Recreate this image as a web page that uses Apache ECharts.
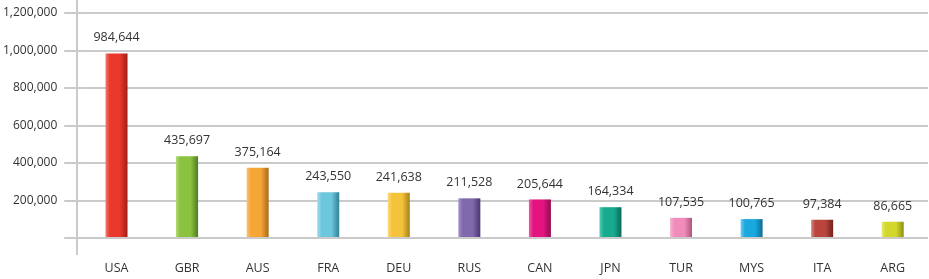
<!DOCTYPE html>
<html>
<head>
<meta charset="utf-8">
<script src="https://cdn.jsdelivr.net/npm/echarts@6/dist/echarts.min.js"></script>
<style>
  html, body { margin: 0; padding: 0; background: #fff; }
  #chart { width: 929px; height: 279px; }
</style>
</head>
<body>
<div id="chart"></div>
<script>
// country codes along the bottom
const countries = ['USA', 'GBR', 'AUS', 'FRA', 'DEU', 'RUS', 'CAN', 'JPN', 'TUR', 'MYS', 'ITA', 'ARG'];
const values = [984644, 435697, 375164, 243550, 241638, 211528, 205644, 164334, 107535, 100765, 97384, 86665];
// [light edge, main, dark edge] per bar
const barColors = [
  ['#f4796d', '#e9382c', '#a01e16'],
  ['#acd66a', '#8bc23f', '#4f7b1f'],
  ['#fbc274', '#f6a537', '#a86b18'],
  ['#a2dcea', '#6cc7dc', '#2f8196'],
  ['#fbd877', '#f5c33a', '#a5801c'],
  ['#a593c8', '#8069ad', '#4a3772'],
  ['#f05aa5', '#e3137f', '#930a50'],
  ['#5ccbb5', '#17aa8f', '#0a6b58'],
  ['#f8b4d2', '#f08cb9', '#ad557d'],
  ['#6ccdf0', '#1aa9de', '#0c6c94'],
  ['#d4847c', '#b9453d', '#74201b'],
  ['#e6e86a', '#d3d72b', '#8c9016']
];
const yTicks = [0, 200000, 400000, 600000, 800000, 1000000, 1200000];

const gridColor = '#cacaca';
const fontFam = '"Open Sans", sans-serif';

const chart = echarts.init(document.getElementById('chart'));

const option = {
  animation: false,
  grid: { left: 78, right: 1, top: 13, bottom: 41 },
  xAxis: {
    type: 'category',
    data: countries,
    axisLine: { show: false },
    axisTick: { show: false },
    axisLabel: {
      margin: 24,
      fontFamily: fontFam,
      fontSize: 12.5,
      color: '#333'
    }
  },
  yAxis: {
    type: 'value',
    min: yTicks[0],
    max: yTicks[yTicks.length - 1],
    interval: 200000,
    axisLine: { show: false },
    axisTick: {
      show: true,
      length: 17,
      lineStyle: { color: gridColor, width: 2 }
    },
    splitLine: { lineStyle: { color: gridColor, width: 2 } },
    axisLabel: {
      margin: 24,
      fontFamily: fontFam,
      fontSize: 12,
      color: '#333',
      formatter: (v) => v === 0 ? '' : v.toLocaleString('en-US')
    }
  },
  series: [
    {
      type: 'bar',
      barWidth: 22,
      data: values.map((v, i) => ({
        value: v,
        itemStyle: {
          color: new echarts.graphic.LinearGradient(0, 0, 1, 0, [
            { offset: 0, color: barColors[i][0] },
            { offset: 0.2, color: barColors[i][1] },
            { offset: 0.65, color: barColors[i][1] },
            { offset: 1, color: barColors[i][2] }
          ])
        }
      })),
      label: {
        show: true,
        position: 'top',
        distance: 9,
        fontFamily: fontFam,
        fontSize: 12.5,
        color: '#333',
        formatter: (p) => p.value.toLocaleString('en-US')
      },
      // zero line sits on top of the bars
      markLine: {
        silent: true,
        symbol: 'none',
        label: { show: false },
        lineStyle: { color: gridColor, width: 2, type: 'solid' },
        data: [{ yAxis: 0 }]
      }
    }
  ],
  // vertical axis line runs past the plot area at both ends
  graphic: [{
    type: 'line',
    shape: { x1: 77, y1: 0, x2: 77, y2: 255 },
    style: { stroke: gridColor, lineWidth: 2 },
    z: 1
  }]
};

chart.setOption(option);
</script>
</body>
</html>
